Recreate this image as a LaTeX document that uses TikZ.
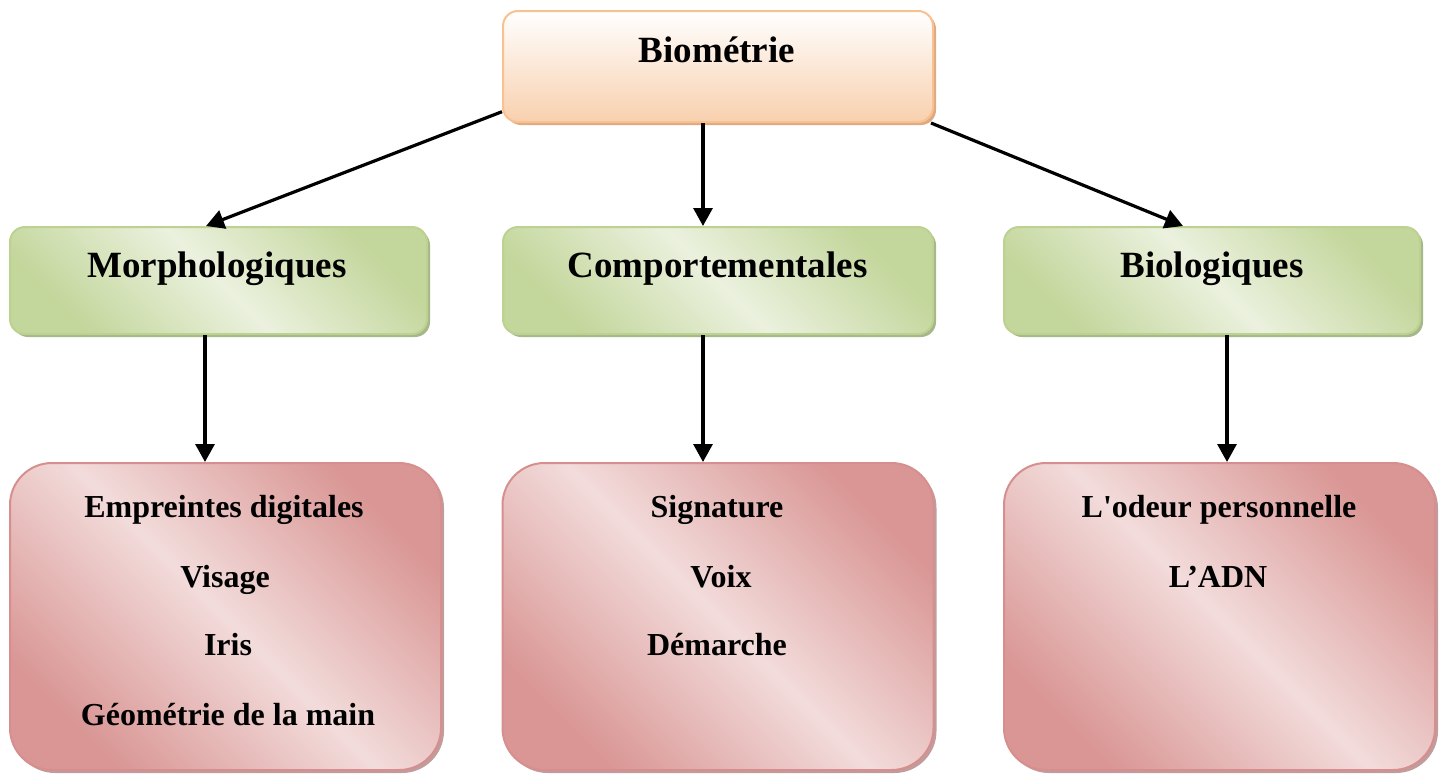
\documentclass[tikz,border=0pt]{standalone}
\usepackage{fontspec}
\setmainfont{Liberation Serif}
\newfontfamily\plainserif{Liberation Serif}[Ligatures=TeXOff]
\usetikzlibrary{arrows.meta,shadows,calc}
\definecolor{peachB}{HTML}{FAC090}
\definecolor{peachD}{HTML}{F8D0AE}
\definecolor{peachS}{HTML}{DDAA82}
\definecolor{greenD}{HTML}{C3D69B}
\definecolor{greenL}{HTML}{EBF1DE}
\definecolor{greenB}{HTML}{BDD290}
\definecolor{greenS}{HTML}{A6B78A}
\definecolor{pinkD}{HTML}{D99694}
\definecolor{pinkL}{HTML}{F2DCDB}
\definecolor{pinkB}{HTML}{D68F8E}
\definecolor{pinkS}{HTML}{C09C9C}
\tikzset{
  boxbase/.style={line width=2pt, inner sep=0pt},
  topbox/.style={boxbase, draw=peachB, rounded corners=15pt, top color=white, bottom color=peachD,
    drop shadow={shadow xshift=3pt, shadow yshift=-3pt, fill=peachS, opacity=1},
    minimum width=430pt, minimum height=111pt},
  greenbox/.style={boxbase, draw=greenB, rounded corners=15pt, left color=greenD, right color=greenD, middle color=greenL, shading angle=-45,
    drop shadow={shadow xshift=3pt, shadow yshift=-3pt, fill=greenS, opacity=1},
    minimum height=107pt},
  pinkbox/.style={boxbase, draw=pinkB, rounded corners=42pt, left color=pinkD, right color=pinkD, middle color=pinkL, shading angle=-45,
    drop shadow={shadow xshift=3pt, shadow yshift=-3pt, fill=pinkS, opacity=1},
    minimum width=431pt, minimum height=307pt},
  bigtxt/.style={anchor=base, inner sep=0pt, font=\fontsize{37}{44}\selectfont\bfseries},
  smalltxt/.style={anchor=base, inner sep=0pt, font=\fontsize{32}{38}\selectfont\bfseries},
  conn/.style={line width=3.2pt, -{Triangle[length=18pt,width=19pt]}}
}
\begin{document}
\begin{tikzpicture}[x=1pt,y=-1pt]
\useasboundingbox (0,0) rectangle (1440,774);
% boxes
\node[topbox] (T) at (718,66.5) {};
\node[greenbox, minimum width=417pt] (M) at (218.5,280.5) {};
\node[greenbox, minimum width=430pt] (C) at (718,280.5) {};
\node[greenbox, minimum width=416pt] (B) at (1212,280.5) {};
\node[pinkbox] (P1) at (225.5,616.5) {};
\node[pinkbox] (P2) at (718,616.5) {};
\node[pinkbox] (P3) at (1219.5,616.5) {};
% texts
\node[bigtxt] (tT) at (717,62.7) {Biométrie};
\node[bigtxt] (tM) at (217,277) {Morphologiques};
\node[bigtxt] (tC) at (717.5,277) {Comportementales};
\node[bigtxt] (tB) at (1212,277) {Biologiques};
\node[smalltxt] (a1) at (224,517) {Empreintes digitales};
\node[smalltxt] (a2) at (225,587) {Visage};
\node[smalltxt] (a3) at (228,655) {Iris};
\node[smalltxt] (a4) at (228,725) {Géométrie de la main};
\node[smalltxt] (b1) at (717,517) {Signature};
\node[smalltxt] (b2) at (721,587) {Voix};
\node[smalltxt] (b3) at (717,655) {Démarche};
\node[smalltxt] (c1) at (1219,517) {\plainserif\bfseries L'odeur personnelle};
\node[smalltxt] (c2) at (1218,587) {L’ADN};
% connector columns
\coordinate (cl) at (206,0);
\coordinate (cm) at (703,0);
\coordinate (cr) at (1183,0);
\coordinate (ll) at (205,0);
\coordinate (lm) at (703,0);
\coordinate (lr) at (1227,0);
% connectors
\draw[conn] ($(T.south west)!0.1!(T.north west)$) -- (M.north -| cl);
\draw[conn] (T.south -| cm) -- (C.north -| cm);
\draw[conn] ($(T.south east)+(-3,0)$) -- (B.north -| cr);
\draw[conn] (M.south -| ll) -- (P1.north -| ll);
\draw[conn] (C.south -| lm) -- (P2.north -| lm);
\draw[conn] (B.south -| lr) -- (P3.north -| lr);
\end{tikzpicture}
\end{document}
